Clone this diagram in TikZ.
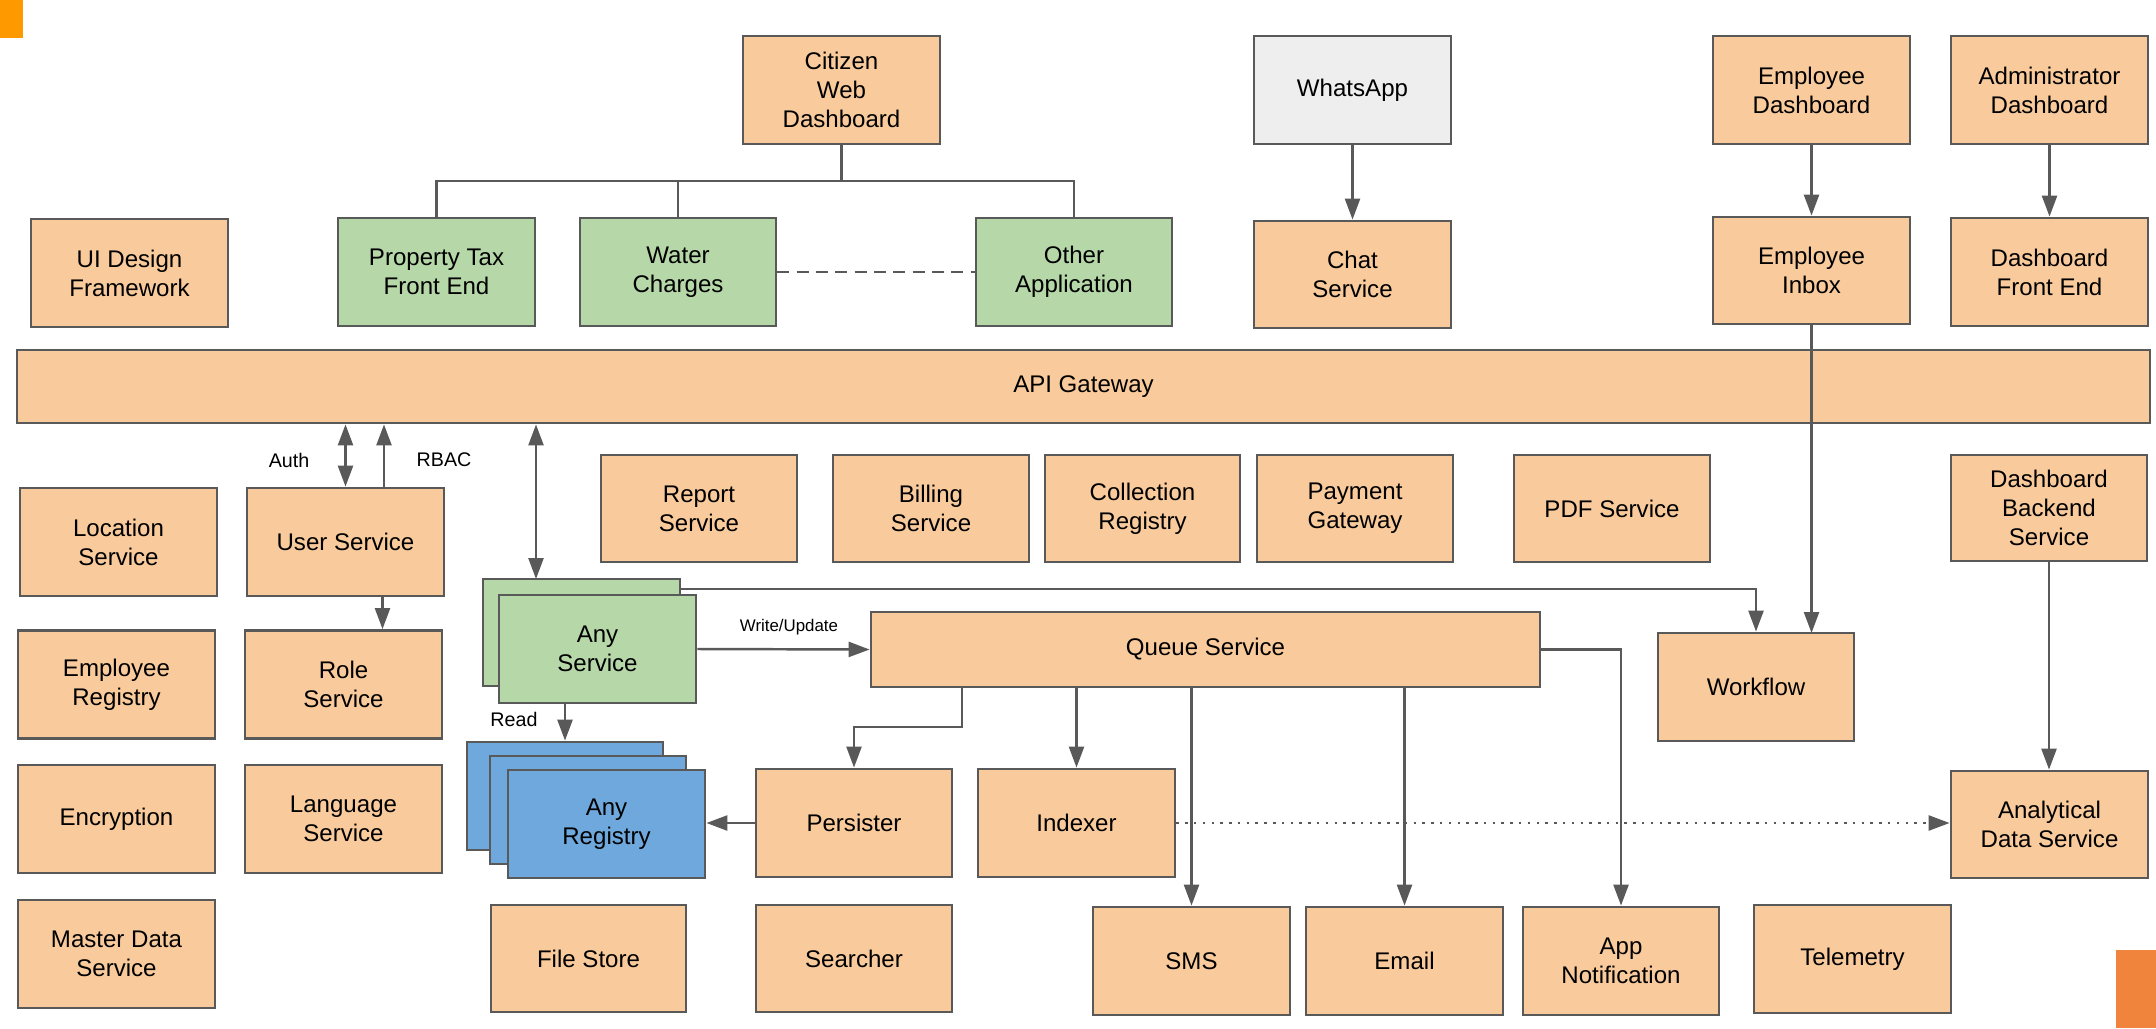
\documentclass[tikz,border=0pt]{standalone}
\usepackage{fontspec}
\setmainfont{Liberation Sans}
\usetikzlibrary{arrows.meta,calc}

\definecolor{peach}{HTML}{F9CB9C}
\definecolor{greenf}{HTML}{B6D7A8}
\definecolor{bluef}{HTML}{6FA8DC}
\definecolor{greyf}{HTML}{EEEEEE}
\definecolor{lineg}{HTML}{595959}
\definecolor{cornerA}{HTML}{FF9900}
\definecolor{cornerB}{HTML}{F0843C}

\newcommand{\nodefont}{\fontsize{13.7}{16.5}\selectfont}
\newcommand{\lblfont}{\fontsize{11.2}{13}\selectfont}
\newcommand{\smallfont}{\fontsize{9.6}{11}\selectfont}

\tikzset{
  box/.style={draw=lineg, line width=1.6pt, fill=peach, align=center,
              font=\nodefont, inner sep=0pt},
  wh/.style 2 args={minimum width=#1*0.02cm, minimum height=#2*0.02cm},
  greenbox/.style={box, fill=greenf},
  bluebox/.style={box, fill=bluef},
  greybox/.style={box, fill=greyf},
  conn/.style={draw=lineg, line width=1.4pt},
  tip/.tip={Triangle[length=0.42cm,width=0.30cm]},
  arr/.style={conn, -tip},
  darr/.style={conn, tip-tip},
  lbl/.style={font=\lblfont, inner sep=0pt},
}

\begin{document}
\begin{tikzpicture}[x=0.02cm, y=-0.02cm]
\useasboundingbox (0,0) rectangle (2156,1028);

% corner markers
\fill[cornerA] (0,0) rectangle (23,38);
\fill[cornerB] (2116,950) rectangle (2156,1028);

% ---- top row: dashboards and channels
\node[box, wh={197}{108}] (cwd) at (841.5,90) {Citizen\\Web\\Dashboard};
\node[greybox, wh={197}{108}] (wa) at (1352.5,90) {WhatsApp};
\node[box, wh={197}{108}] (edash) at (1811.5,90) {Employee\\Dashboard};
\node[box, wh={197}{108}] (adash) at (2049.5,90) {Administrator\\Dashboard};

% ---- front ends
\node[box, wh={197}{108}] (ui) at (129.5,273) {UI Design\\Framework};
\node[greenbox, wh={197}{108}] (ptax) at (436.5,272) {Property Tax\\Front End};
\node[greenbox, wh={196}{108}] (water) at (678,272) {Water\\Charges};
\node[greenbox, wh={196}{108}] (other) at (1074,272) {Other\\Application};
\node[box, wh={197}{107}] (chat) at (1352.5,274.5) {Chat\\Service};
\node[box, wh={197}{107}] (einbox) at (1811.5,270.5) {Employee\\Inbox};
\node[box, wh={197}{108}] (dfe) at (2049.5,272) {Dashboard\\Front End};

% ---- gateway
\node[box, wh={2133}{73}] (api) at (1083.5,386.5) {API Gateway};

% ---- platform services, left columns
\node[box, wh={197}{108}] (loc) at (118.5,542) {Location\\Service};
\node[box, wh={197}{108}] (user) at (345.5,542) {User Service};
\node[box, wh={197}{108}] (ereg) at (116.5,684.5) {Employee\\Registry};
\node[box, wh={197}{108}] (role) at (343.5,684.5) {Role\\Service};
\node[box, wh={197}{108}] (enc) at (116.5,819) {Encryption};
\node[box, wh={197}{108}] (lang) at (343.5,819) {Language\\Service};
\node[box, wh={197}{108}] (mds) at (116.5,954) {Master Data\\Service};

% ---- business services row
\node[box, wh={196}{107}] (report) at (699,508.5) {Report\\Service};
\node[box, wh={196}{107}] (billing) at (931,508.5) {Billing\\Service};
\node[box, wh={195}{107}] (collection) at (1142.5,508.5) {Collection\\Registry};
\node[box, wh={196}{107}] (payment) at (1355,508.5) {Payment\\Gateway};
\node[box, wh={196}{107}] (pdf) at (1612,508.5) {PDF Service};
\node[box, wh={196}{106}] (dbs) at (2049,508) {Dashboard\\Backend\\Service};

% ---- any service (stacked)
\node[greenbox, wh={197}{107}] (anyback) at (581.5,632.5) {};
\node[greenbox, wh={197}{108}] (anysvc) at (597.5,649) {Any\\Service};

% ---- any registry (stacked)
\node[bluebox, wh={196}{108}] (regback) at (565,796) {};
\node[bluebox, wh={196}{108}] (regmid) at (588,810) {};
\node[bluebox, wh={197}{108}] (regfront) at (606.5,824) {Any\\Registry};

% ---- queue and consumers
\node[box, wh={669}{75}] (queue) at (1205.5,649.5) {Queue Service};
\node[box, wh={196}{108}] (workflow) at (1756,687) {Workflow};
\node[box, wh={196}{108}] (persister) at (854,823) {Persister};
\node[box, wh={197}{108}] (indexer) at (1076.5,823) {Indexer};
\node[box, wh={197}{107}] (ads) at (2049.5,824.5) {Analytical\\Data Service};

% ---- bottom row
\node[box, wh={195}{107}] (filestore) at (588.5,958.5) {File Store};
\node[box, wh={196}{107}] (searcher) at (854,958.5) {Searcher};
\node[box, wh={197}{108}] (sms) at (1191.5,961) {SMS};
\node[box, wh={197}{108}] (email) at (1404.5,961) {Email};
\node[box, wh={196}{108}] (appnotif) at (1621,961) {App\\Notification};
\node[box, wh={197}{108}] (telemetry) at (1852.5,959) {Telemetry};

% ---- connectors: citizen dashboard tree
\coordinate (bus) at (841.5,181);
\draw[conn] (cwd.south) -- (bus);
\draw[conn] (bus) -| (ptax.north);
\draw[conn] (bus) -| (water.north);
\draw[conn] (bus) -| (other.north);
\draw[conn, dash pattern=on 6.8pt off 4.2pt] (water.east) -- (other.west);

% ---- top arrows
\draw[arr] (wa.south) -- (chat.north);
\draw[arr] (edash.south) -- (einbox.north);
\draw[arr] (adash.south) -- (dfe.north);

% ---- user service links
\coordinate (rbac) at (384,488);
\coordinate (usrole) at (382.5,596);
\draw[darr] (user.north) -- (user.north |- api.south);
\draw[arr] (rbac) -- (rbac |- api.south);
\draw[arr] (usrole) -- (usrole |- role.north);
\node[lbl] (authlbl) at (289,460) {Auth};
\node[lbl] (rbaclbl) at (444,460) {RBAC};

% ---- gateway to any service
\coordinate (gwany) at (536,579);
\draw[darr] (gwany |- api.south) -- (gwany);

% ---- any service links
\draw[arr] (anysvc.east) -- (queue.west);
\node[font=\smallfont, inner sep=0pt] (wulbl) at (789,627) {Write/Update};
\draw[arr] (regback.north |- anysvc.south) -- (regback.north);
\node[lbl] (readlbl) at (514,719) {Read};
\coordinate (anywf) at (680,589);
\draw[arr] (anywf) -| (workflow.north);
\coordinate (inboxwf) at (1811.5,633);
\draw[arr] (einbox.south) -- (inboxwf);

% ---- queue fan-out
\coordinate (qpers) at (962,687);
\draw[arr] (qpers) -- (962,727) -| (persister.north);
\draw[arr] (indexer.north |- queue.south) -- (indexer.north);
\draw[arr] (sms.north |- queue.south) -- (sms.north);
\draw[arr] (email.north |- queue.south) -- (email.north);
\draw[arr] (queue.east) -| (appnotif.north);

% ---- persistence and analytics
\draw[arr] (persister.west) -- (regfront.east |- persister.west);
\draw[arr] (dbs.south) -- (dbs.south |- ads.north);
\draw[arr, dash pattern=on 1.4pt off 3.6pt] (indexer.east) -- (ads.west |- indexer.east);

\end{tikzpicture}
\end{document}
